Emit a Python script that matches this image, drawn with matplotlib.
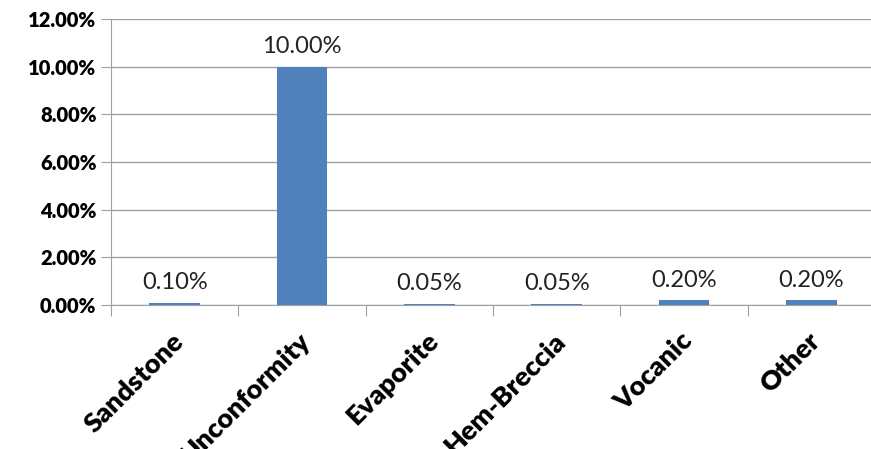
import matplotlib.pyplot as plt
from matplotlib.ticker import FuncFormatter, MultipleLocator

categories = ["Sandstone", "Unconformity", "Evaporite", "Hem-Breccia", "Vocanic", "Other"]
values = [0.10, 10.00, 0.05, 0.05, 0.20, 0.20]  # percent

plt.rcParams['font.family'] = ['Lato', 'DejaVu Sans']

fig = plt.figure(figsize=(8.71, 4.49), dpi=100)
# plot area runs slightly past the right edge, like the original
ax = fig.add_axes([111 / 871, 1 - 305 / 449, 764 / 871, 286 / 449])

x = range(len(categories))
ax.bar(x, values, width=0.4, color="#4F81BD", zorder=3)

for xi, v in zip(x, values):
    ax.text(xi, v + 0.4, f"{v:.2f}%", ha="center", va="bottom", fontsize=17, color="#222222")

ax.set_xlim(-0.5, len(categories) - 0.5)
ax.set_ylim(0, 12)
ax.yaxis.set_major_locator(MultipleLocator(2))
ax.yaxis.set_major_formatter(FuncFormatter(lambda v, p: f"{v:.2f}%"))
ax.grid(axis="y", color="#A0A0A0", linewidth=1, zorder=0)

for s in ["top", "right"]:
    ax.spines[s].set_visible(False)
ax.spines["left"].set_color("#A0A0A0")
ax.spines["bottom"].set_color("#A0A0A0")

ax.set_xticks([i - 0.5 for i in range(len(categories) + 1)], minor=False)
ax.set_xticklabels([])
ax.set_xticks([i - 0.03 for i in x], minor=True)
ax.set_xticklabels(categories, minor=True, rotation=45, ha="right", va="top",
                   rotation_mode="anchor", fontsize=19.5, fontweight="heavy")
ax.tick_params(axis="x", which="minor", length=0, pad=17)
ax.tick_params(axis="x", which="major", length=8, color="#A0A0A0")
ax.tick_params(axis="y", length=7, color="#A0A0A0", labelsize=14.5)
for lbl in ax.get_yticklabels():
    lbl.set_fontweight("heavy")

fig.savefig("out.png", dpi=100)
